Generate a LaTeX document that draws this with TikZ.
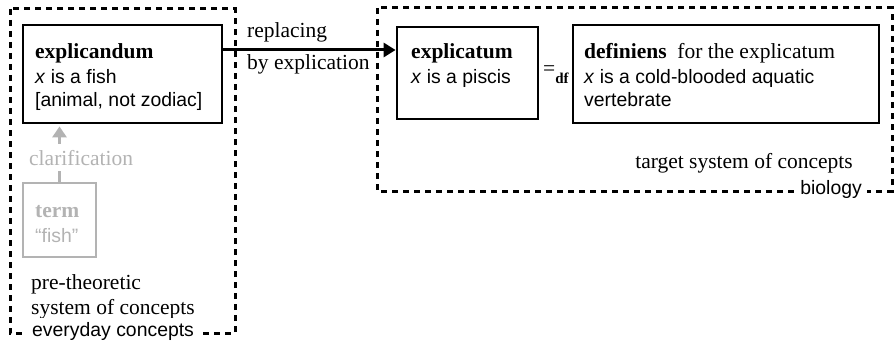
\documentclass[tikz,border=0pt]{standalone}
\usepackage{fontspec}
\setmainfont{Liberation Serif}
\setsansfont{Liberation Sans}
\usetikzlibrary{arrows.meta}
\definecolor{termgray}{HTML}{B3B3B3}
\newcommand{\myserif}{\fontsize{21.5}{23.5}\selectfont\rmfamily}
\newcommand{\mysans}{\fontsize{19.4}{23.5}\selectfont\sffamily}
\tikzset{
  box/.style={draw, rectangle, line width=2.8pt, inner sep=0pt},
  graybox/.style={draw=termgray, rectangle, line width=2.8pt, inner sep=0pt},
  frame/.style={line width=3pt, dash pattern=on 6pt off 5pt},
  lbl/.style={inner sep=0pt, anchor=base west, font=\myserif},
  slbl/.style={inner sep=0pt, anchor=base west, font=\mysans},
  arr/.style={line width=3pt, -{Triangle[length=12pt,width=14pt]}},
  grayarr/.style={draw=termgray, line width=3pt, -{Triangle[length=11pt,width=14pt]}, color=termgray},
}
\begin{document}
\begin{tikzpicture}[x=1pt,y=-1pt]
\useasboundingbox (0,0) rectangle (894,345);
% frames
\draw[frame] (10,9) rectangle (235,333);
\draw[frame] (377,8) rectangle (892,191);
% boxes
\node[box, minimum width=199pt, minimum height=98pt] (explicandum) at (122.5,74) {};
\node[graybox, minimum width=73pt, minimum height=74pt] (term) at (59.5,220) {};
\node[box, minimum width=141pt, minimum height=92pt] (explicatum) at (467.5,73) {};
\node[box, minimum width=306pt, minimum height=98pt] (definiens) at (726,74) {};
% connectors
\draw[arr] ([yshift=24pt]explicandum.east) -- ([yshift=24pt]explicandum.east -| explicatum.west);
\draw[grayarr, shorten >=2pt] (term.north) -- (term.north |- explicandum.south);
% texts in explicandum
\node[lbl] (t1) at (35,59) {\bfseries explicandum};
\node[slbl] (t2) at (35,83) {\textit{x} is a fish};
\node[slbl] (t3) at (35,106) {[animal, not zodiac]};
% clarification
\node[lbl, fill=white, text=termgray, inner xsep=2pt, inner ysep=6pt] (clar) at (27,165) {clarification};
% term
\node[lbl, text=termgray] (t4) at (35,217) {\bfseries term};
\node[slbl, text=termgray] (t5) at (35,242) {“fish”};
% pre-theoretic
\node[lbl] (t6) at (31,289) {pre-theoretic};
\node[lbl] (t7) at (31,314) {system of concepts};
\node[slbl, fill=white, inner xsep=6pt, inner ysep=4pt] (t8) at (26,336) {everyday concepts};
% replacing
\node[lbl] (t9) at (247,38) {replacing};
\node[lbl] (t10) at (247,70) {by explication};
% explicatum
\node[lbl] (t11) at (411,59) {\bfseries explicatum};
\node[slbl] (t12) at (411,83) {\textit{x} is a piscis};
% =df
\node[lbl] (t13) at (543,76) {=\raisebox{-7pt}{\fontsize{15}{15}\selectfont\bfseries df}};
% definiens
\node[lbl] (t14) at (584,59) {{\bfseries definiens}~ for the explicatum};
\node[slbl] (t15) at (584,83) {\textit{x} is a cold-blooded aquatic};
\node[slbl] (t16) at (584,106) {vertebrate};
% target
\node[lbl, anchor=base east] (t17) at (853,168) {target system of concepts};
\node[slbl, anchor=base east, fill=white, inner xsep=5pt, inner ysep=4pt] (t18) at (867,194) {biology};
\end{tikzpicture}
\end{document}
